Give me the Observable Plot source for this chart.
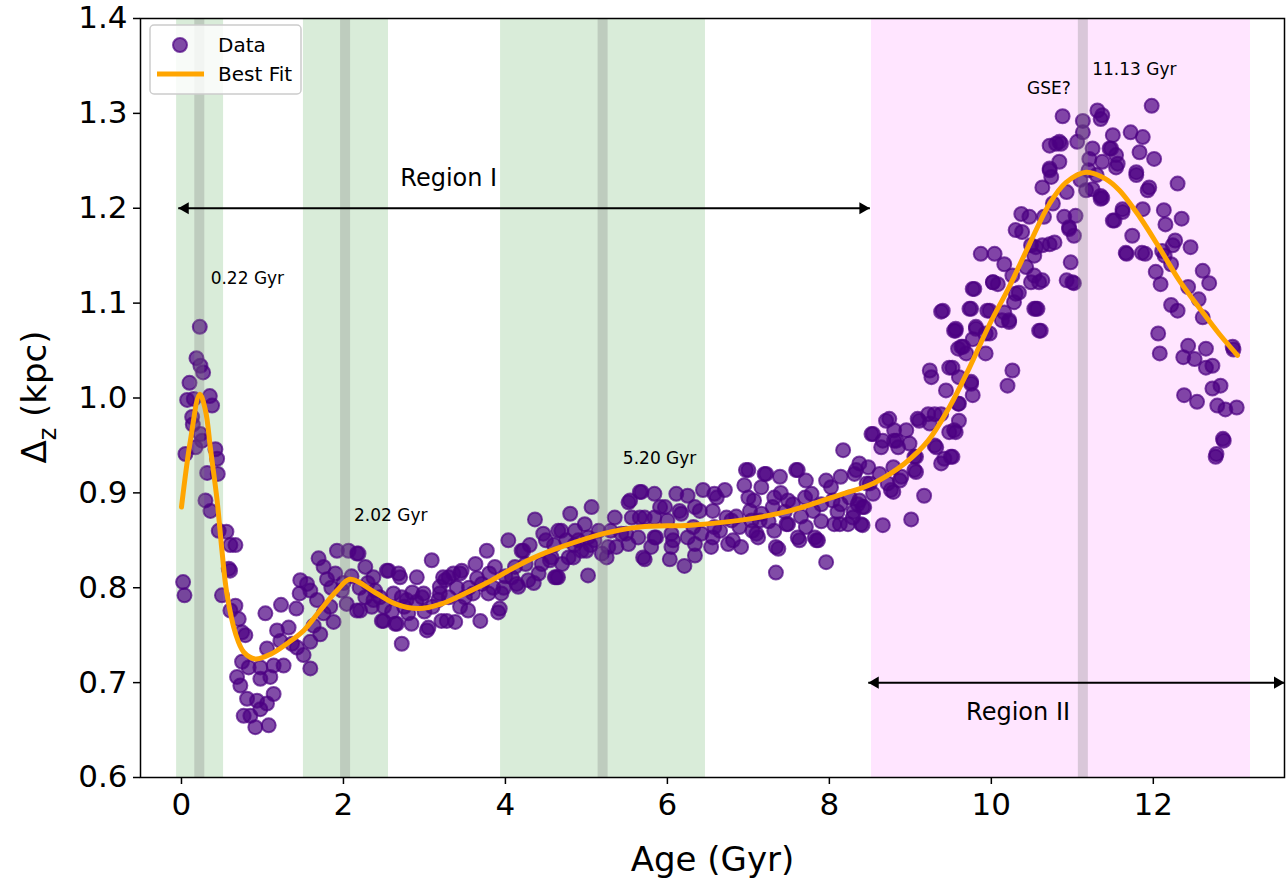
<!DOCTYPE html>
<html>
<head>
<meta charset="utf-8">
<script src="https://cdn.jsdelivr.net/npm/d3@7"></script>
<script src="https://cdn.jsdelivr.net/npm/@observablehq/plot@0.6"></script>
<style>
  html, body { margin: 0; padding: 0; background: white; }
  #chart { width: 1286px; height: 882px; }
</style>
</head>
<body>
<div id="chart"></div>
<script>
// ---- data ----
const dataPoints = [
[0.226,1.075],[0.185,1.042],[0.234,1.034],[0.267,1.027],[0.099,1.016],[0.07,0.998],[0.152,0.999],[0.35,1.002],[0.378,0.992],[0.132,0.980],[0.14,0.972],[0.234,0.962],[0.255,0.955],[0.173,0.948],[0.049,0.941],[0.419,0.946],[0.44,0.936],[0.317,0.921],[0.448,0.920],[0.296,0.892],[0.358,0.881],[0.46,0.860],[0.555,0.859],[0.604,0.845],[0.666,0.845],[0.584,0.820],[0.60,0.818],[0.02,0.806],[0.037,0.792],[0.50,0.792],[0.666,0.781],[0.604,0.776],[0.707,0.767],[0.748,0.753],[0.789,0.750],[1.036,0.773],[1.229,0.782],[1.418,0.778],[1.467,0.808],[1.459,0.794],[1.18,0.755],[1.323,0.758],[1.221,0.744],[1.365,0.741],[1.426,0.737],[1.508,0.729],[1.591,0.715],[1.056,0.736],[0.748,0.722],[0.83,0.716],[0.974,0.716],[1.138,0.718],[1.261,0.718],[0.686,0.706],[0.727,0.697],[0.974,0.704],[1.097,0.706],[0.81,0.683],[0.933,0.681],[1.138,0.688],[1.056,0.678],[0.768,0.665],[0.851,0.665],[0.912,0.653],[1.077,0.655],[0.974,0.672],
[1.693,0.831],[1.92,0.839],[2.063,0.839],[1.755,0.822],[1.797,0.809],[1.591,0.797],[1.673,0.787],[1.837,0.780],[1.755,0.773],[1.632,0.760],[1.878,0.764],[1.714,0.751],[1.591,0.743],[1.98,0.797],[2.04,0.783],[2.166,0.776],[1.55,0.804],[2.166,0.836],[2.27,0.822],[2.37,0.811],[2.536,0.818],[2.70,0.811],[2.906,0.811],[3.09,0.829],[2.618,0.794],[2.78,0.787],[2.99,0.794],[2.495,0.765],[2.66,0.762],[3.03,0.755],[2.72,0.741],[2.207,0.776],[2.371,0.787],[3.23,0.811],[3.357,0.815],[3.276,0.765],[3.19,0.794],[2.186,0.836],[2.556,0.818],[2.68,0.815],[2.27,0.790],[2.474,0.765],[2.639,0.762],[2.80,0.773],[3.05,0.758],[3.21,0.765],[3.38,0.764],[3.54,0.776],[3.69,0.765],[3.91,0.774],[3.95,0.794],[3.255,0.808],[3.46,0.818],[3.63,0.825],[2.97,0.790],[3.17,0.787],[3.50,0.790],[3.79,0.794],[2.39,0.797],[2.72,0.790],[2.84,0.762],[3.30,0.811],[3.71,0.804],[3.44,0.815],[3.60,0.794],[3.44,0.780],[3.19,0.801],[1.9,0.815],[2.0,0.805],[2.1,0.812],[2.2,0.800],[2.3,0.805],[1.85,0.800],
[2.5,0.780],[2.6,0.775],[2.75,0.780],[2.9,0.785],[3.0,0.775],[3.1,0.780],[3.3,0.790],[3.4,0.800],[3.55,0.800],[3.65,0.810],[3.8,0.815],[3.85,0.800],[2.45,0.790],[2.35,0.780],[2.85,0.795],
[3.77,0.839],[3.87,0.822],[4.036,0.850],[4.365,0.872],[4.467,0.857],[4.652,0.860],[4.20,0.839],[4.118,0.822],[4.282,0.808],[4.159,0.801],[4.41,0.815],[4.61,0.811],[4.45,0.825],[4.57,0.832],[4.08,0.811],[4.14,0.804],[4.22,0.839],[4.55,0.829],[3.93,0.778],[4.0,0.812],[4.25,0.825],[4.3,0.845],[4.5,0.850],[4.35,0.805],[3.98,0.800],[4.6,0.845],[4.75,0.850],[4.85,0.845],[5.05,0.845],[4.7,0.825],
[4.80,0.878],[5.064,0.885],[5.00,0.839],[5.02,0.813],[4.63,0.811],[4.84,0.832],[5.25,0.832],[5.37,0.843],[5.54,0.892],[5.66,0.901],[5.84,0.899],[6.11,0.899],[6.44,0.903],[5.70,0.832],[6.03,0.830],[6.21,0.823],[6.34,0.834],[5.66,0.874],[5.91,0.885],[6.15,0.881],[5.49,0.857],[5.86,0.853],[6.07,0.850],[6.32,0.864],[6.61,0.895],[6.71,0.903],[6.95,0.908],[7.0,0.924],[4.69,0.860],[4.86,0.860],[4.98,0.867],[4.78,0.832],[4.94,0.839],[4.65,0.811],[5.19,0.836],[5.35,0.874],[5.52,0.890],[5.68,0.901],[5.97,0.885],[6.25,0.897],[6.58,0.899],[6.97,0.924],[7.07,0.892],[5.56,0.874],[5.72,0.874],[5.84,0.874],[6.0,0.871],[6.17,0.878],[6.34,0.885],[5.43,0.857],[5.64,0.853],[5.84,0.853],[6.05,0.857],[6.25,0.853],[6.42,0.857],[5.27,0.843],[5.52,0.846],[5.80,0.843],[6.05,0.843],[6.34,0.846],[5.72,0.830],[6.54,0.843],[6.75,0.846],[6.91,0.843],[7.12,0.853],[6.58,0.864],[6.79,0.871],[7.04,0.871],[5.02,0.853],[5.15,0.860],[6.56,0.853],[6.81,0.850],[6.73,0.874],[7.02,0.881],[6.89,0.864],[6.56,0.881],[6.40,0.881],[5.10,0.850],[5.30,0.860],[4.90,0.850],
[6.65,0.860],[6.85,0.875],[7.05,0.860],[7.25,0.870],[7.45,0.880],[7.65,0.875],[7.9,0.870],[8.1,0.880],[8.3,0.880],[7.0,0.895],[7.4,0.900],[7.7,0.895],
[7.20,0.920],[7.39,0.917],[7.59,0.924],[7.71,0.913],[7.96,0.913],[8.17,0.945],[8.37,0.931],[8.54,0.962],[8.70,0.976],[7.10,0.857],[7.34,0.843],[7.63,0.850],[7.84,0.850],[7.34,0.816],[7.96,0.827],[8.66,0.866],[7.30,0.885],[7.55,0.888],[7.80,0.881],[8.04,0.892],[8.25,0.895],[8.46,0.910],[8.13,0.867],[8.41,0.866],[7.14,0.871],[7.47,0.867],[7.71,0.864],[8.48,0.927],[8.31,0.920],[8.14,0.917],[8.02,0.906],[7.78,0.899],[7.61,0.924],[7.22,0.920],[7.16,0.906],[7.32,0.895],[7.49,0.892],[7.90,0.888],[8.14,0.888],[8.35,0.888],[8.43,0.885],[7.16,0.878],[7.32,0.860],[7.49,0.867],[7.61,0.853],[7.82,0.853],[8.06,0.867],[8.23,0.867],[8.39,0.867],[7.37,0.841],[7.86,0.850],
[8.74,0.978],[8.52,0.962],[8.95,0.966],[9.09,0.978],[9.24,1.029],[9.26,1.022],[9.48,1.032],[9.44,1.008],[9.59,1.052],[9.54,1.071],[9.22,0.983],[9.38,0.983],[9.54,0.966],[9.30,0.950],[9.05,0.938],[9.05,0.924],[8.80,0.955],[8.64,0.948],[8.89,0.917],[8.76,0.903],[9.38,0.931],[9.50,0.938],[9.17,0.897],[9.01,0.872],[8.80,0.966],[8.85,0.948],[8.66,0.955],[8.83,0.955],[8.99,0.952],[9.48,0.964],[9.32,0.948],[9.42,0.936],[9.07,0.938],[8.79,0.927],[8.62,0.920],[9.07,0.922],[8.87,0.913],[8.72,0.910],[8.50,0.910],[8.33,0.924],[8.37,0.892],[8.54,0.899],[8.79,0.901],[8.41,0.885],[8.29,0.874],[9.11,0.976],[9.24,0.973],[9.60,0.994],[9.60,0.976],[9.30,0.983],
[9.40,1.092],[9.81,1.075],[9.98,1.092],[9.98,1.068],[10.13,1.082],[10.59,1.071],[9.63,1.054],[9.69,1.047],[9.75,1.017],[9.77,1.003],[9.38,1.091],[9.73,1.094],[9.56,1.073],[9.77,1.115],[10.02,1.122],
[10.88,1.297],[11.13,1.292],[11.31,1.303],[11.35,1.294],[11.13,1.280],[11.50,1.277],[10.80,1.268],[10.86,1.268],[11.06,1.270],[11.25,1.263],[11.46,1.263],[10.84,1.249],[10.72,1.240],[10.74,1.233],[10.63,1.222],[11.21,1.252],[11.37,1.249],[11.54,1.256],[10.93,1.217],[11.17,1.219],[11.35,1.210],[10.76,1.205],[10.65,1.191],[10.37,1.194],[10.47,1.191],[10.30,1.177],[10.38,1.175],[10.90,1.191],[11.04,1.192],[10.96,1.180],[11.02,1.171],[11.50,1.187],[10.55,1.159],[10.72,1.162],[10.78,1.164],[10.53,1.150],[9.87,1.152],[10.04,1.152],[10.16,1.141],[10.43,1.138],[10.98,1.143],[10.02,1.122],[10.08,1.120],[9.79,1.115],[10.49,1.122],[10.63,1.124],[10.93,1.124],[11.02,1.121],[10.30,1.110],[10.28,1.101],[9.75,1.094],[9.95,1.092],[10.22,1.082],[10.53,1.094],[10.57,1.094],[10.61,1.071],[9.81,1.073],[9.56,1.071],[9.93,1.068],[9.77,1.062],[9.65,1.054],[9.93,1.047],[9.52,1.032],[10.26,1.029],[10.20,1.013],[9.60,1.022],[9.75,1.015],[9.59,0.994],[9.56,0.964],[9.52,0.938],[10.72,1.266],[10.84,1.270],[10.72,1.242],[10.96,1.178],[10.49,1.161],[10.63,1.161],[10.53,1.129],[10.59,1.122],[10.26,1.129],[10.34,1.111],[10.16,1.090],[10.22,1.080],[10.55,1.094],[11.0,1.122],[11.35,1.213],[11.54,1.243],[11.1,1.230],[11.2,1.240],[11.3,1.235],[11.25,1.220],
[11.98,1.308],[11.37,1.298],[11.72,1.280],[11.87,1.275],[11.83,1.259],[12.01,1.252],[11.48,1.263],[11.56,1.247],[11.79,1.238],[11.95,1.222],[12.30,1.226],[11.37,1.211],[11.62,1.199],[11.87,1.199],[11.52,1.187],[12.13,1.198],[12.35,1.189],[12.15,1.183],[11.74,1.171],[12.27,1.166],[11.67,1.152],[11.90,1.152],[12.11,1.155],[12.46,1.159],[12.61,1.134],[12.03,1.133],[12.09,1.120],[12.69,1.121],[12.22,1.141],[12.43,1.117],[12.56,1.104],[12.22,1.098],[12.30,1.092],[12.61,1.085],[12.06,1.068],[12.08,1.047],[12.43,1.055],[12.37,1.043],[12.51,1.041],[12.65,1.052],[12.65,1.032],[12.73,1.034],[12.98,1.054],[12.99,1.051],[12.73,1.010],[12.83,1.013],[12.38,1.003],[12.54,0.996],[12.79,0.992],[12.89,0.988],[13.03,0.990],[12.86,0.957],[12.87,0.955],[12.77,0.938],[12.78,0.941],[11.79,1.235],[11.93,1.219],[11.62,1.196],[12.14,1.150],[12.24,1.161],[11.66,1.153],[11.86,1.153]
];

const fitAge = [0.0,0.11,0.226,0.296,0.36,0.44,0.50,0.56,0.67,0.77,0.91,1.10,1.30,1.51,1.71,1.92,2.08,2.39,2.64,2.93,3.21,3.50,3.79,4.08,4.36,4.69,5.21,5.66,6.28,6.89,7.51,8.13,8.54,8.93,9.22,9.48,9.73,9.98,10.22,10.47,10.72,10.92,11.17,11.41,11.58,11.83,12.07,12.32,12.56,12.81,13.04];
const fitDz  = [0.885,0.955,1.004,0.987,0.945,0.892,0.839,0.794,0.751,0.732,0.725,0.730,0.741,0.755,0.776,0.797,0.809,0.795,0.783,0.778,0.783,0.794,0.806,0.820,0.832,0.843,0.857,0.864,0.866,0.871,0.881,0.898,0.910,0.931,0.955,0.990,1.032,1.078,1.117,1.162,1.205,1.227,1.238,1.231,1.219,1.191,1.159,1.124,1.096,1.068,1.045];

const greenLo = [-0.06, 1.506, 3.94];
const greenHi = [0.52, 2.556, 6.47];
const pinkLo = [8.52];
const pinkHi = [13.2];
const eventAges = [0.22, 2.02, 5.20, 11.13];

const annText = ["0.22 Gyr", "2.02 Gyr", "5.20 Gyr", "11.13 Gyr", "GSE?"];
const annX = [0.36, 2.13, 5.45, 11.245, 10.44];
const annY = [1.126, 0.876, 0.936, 1.346, 1.326];

const regionText = ["Region I", "Region II"];
const regionX = [3.30, 10.33];
const regionY = [1.232, 0.6685];

const arrowY = [1.2, 0.7];
const arrowX1 = [-0.04, 8.48];
const arrowX2 = [8.5, 13.62];

const xTicks = [0, 2, 4, 6, 8, 10, 12];
const yTicks = [0.6, 0.7, 0.8, 0.9, 1.0, 1.1, 1.2, 1.3, 1.4];

// ---- derived tables ----
const points = dataPoints.map(([a, d]) => ({age: a, dz: d}));
const fit = fitAge.map((a, i) => ({age: a, dz: fitDz[i]}));
const greenBands = greenLo.map((lo, i) => ({lo, hi: greenHi[i]}));
const pinkBands = pinkLo.map((lo, i) => ({lo, hi: pinkHi[i]}));
const ann = annText.map((t, i) => ({t, x: annX[i], y: annY[i]}));
const regions = regionText.map((t, i) => ({t, x: regionX[i], y: regionY[i]}));
const arrows = arrowY.map((y, i) => ({y, x1: arrowX1[i], x2: arrowX2[i]}));
const heads = arrows.flatMap(a => [{x: a.x1, y: a.y, dir: -1}, {x: a.x2, y: a.y, dir: 1}]);

const FONT = "DejaVu Sans, sans-serif";

const chart = Plot.plot({
  width: 1286,
  height: 882,
  marginTop: 18,
  marginBottom: 105,
  marginLeft: 140,
  marginRight: 2,
  x: {domain: [-0.506, 13.62]},
  y: {domain: [0.6, 1.4]},
  style: {fontFamily: FONT, fontSize: "31px", color: "black", background: "white"},
  marks: [
    Plot.rect(greenBands, {x1: "lo", x2: "hi", fill: "#d9ecd9"}),
    Plot.rect(pinkBands, {x1: "lo", x2: "hi", fill: "#ffe5ff"}),
    Plot.dot(points, {x: "age", y: "dz", r: 7, fill: "#4B0082", fillOpacity: 0.7, stroke: "#4B0082", strokeOpacity: 0.7, strokeWidth: 2}),
    Plot.ruleX(eventAges, {stroke: "gray", strokeOpacity: 0.3, strokeWidth: 10}),
    Plot.line(fit, {x: "age", y: "dz", stroke: "#FFA500", strokeWidth: 5, curve: "catmull-rom"}),
    Plot.link(arrows, {x1: "x1", x2: "x2", y1: "y", y2: "y", stroke: "black", strokeWidth: 2}),
    Plot.dot(heads.filter(h => h.dir < 0), {x: "x", y: "y", symbol: "triangle", r: 4.5, rotate: -90, dx: 7, fill: "black", stroke: "none"}),
    Plot.dot(heads.filter(h => h.dir > 0), {x: "x", y: "y", symbol: "triangle", r: 4.5, rotate: 90, dx: -7, fill: "black", stroke: "none"}),
    Plot.text(ann, {x: "x", y: "y", text: "t", textAnchor: "start", fontSize: 17, fill: "black"}),
    Plot.text(regions, {x: "x", y: "y", text: "t", textAnchor: "middle", fontSize: 24, fill: "black"}),
    Plot.axisX(xTicks, {tickSize: 7, tickPadding: 8, fontSize: 31, strokeWidth: 1.5, label: null}),
    Plot.axisY(yTicks, {tickSize: 7, tickPadding: 6, fontSize: 31, strokeWidth: 1.5, tickFormat: d3.format(".1f"), label: null}),
    Plot.text(["Age (Gyr)"], {frameAnchor: "bottom", dy: 93, fontSize: 34, fill: "black"}),
    Plot.frame({stroke: "black", strokeWidth: 1.5})
  ]
});

document.getElementById("chart").appendChild(chart);

// y-axis label with subscript, and legend
const svg = d3.select(chart);
const yl = svg.append("text")
  .attr("transform", "translate(34,397) rotate(-90)")
  .attr("text-anchor", "middle")
  .attr("dominant-baseline", "central")
  .attr("font-family", FONT)
  .attr("font-size", 34)
  .attr("fill", "black");
yl.append("tspan").text("Δ");
yl.append("tspan").attr("baseline-shift", "sub").attr("font-size", 24).text("z");
yl.append("tspan").text(" (kpc)");

const lg = svg.append("g").attr("font-family", FONT).attr("font-size", 20).attr("text-anchor", "start");
lg.append("rect").attr("x", 150).attr("y", 25).attr("width", 151).attr("height", 69).attr("rx", 4)
  .attr("fill", "white").attr("fill-opacity", 0.8).attr("stroke", "#cccccc").attr("stroke-width", 1.5);
lg.append("circle").attr("cx", 180).attr("cy", 45).attr("r", 7)
  .attr("fill", "#4B0082").attr("fill-opacity", 0.7).attr("stroke", "#4B0082").attr("stroke-opacity", 0.7).attr("stroke-width", 2);
lg.append("line").attr("x1", 157).attr("x2", 204).attr("y1", 74).attr("y2", 74)
  .attr("stroke", "#FFA500").attr("stroke-width", 5);
lg.append("text").attr("x", 218).attr("y", 45).attr("dominant-baseline", "central").attr("text-anchor", "start").text("Data");
lg.append("text").attr("x", 218).attr("y", 74).attr("dominant-baseline", "central").attr("text-anchor", "start").text("Best Fit");
</script>
</body>
</html>
